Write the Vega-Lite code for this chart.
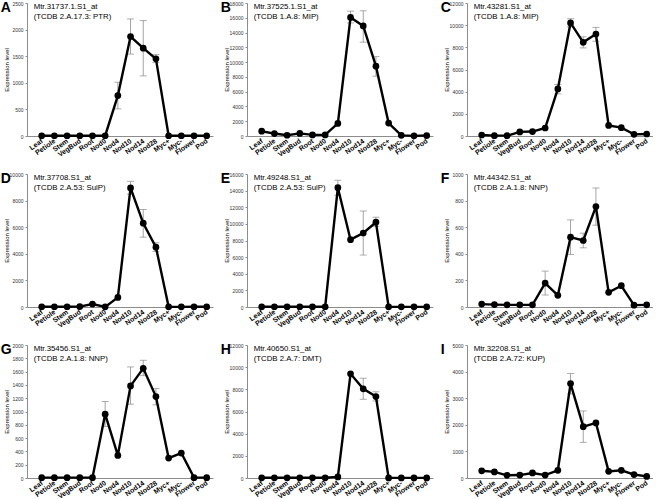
{
  "$schema": "https://vega.github.io/schema/vega-lite/v6.json",
  "padding": {"top": 1, "left": 0, "right": 0, "bottom": 0},
  "autosize": {"type": "pad"},
  "columns": 3,
  "spacing": {"row": 38, "column": 34},
  "bounds": "flush",
  "datasets": {
    "pts": [
      {"p":"A","tissue":"Leaf","v":5},{"p":"A","tissue":"Petiole","v":5},{"p":"A","tissue":"Stem","v":5},{"p":"A","tissue":"VegBud","v":5},{"p":"A","tissue":"Root","v":5},{"p":"A","tissue":"Nod0","v":5},{"p":"A","tissue":"Nod4","v":760,"lo":510,"hi":1010},{"p":"A","tissue":"Nod10","v":1870,"lo":1540,"hi":2200},{"p":"A","tissue":"Nod14","v":1650,"lo":1130,"hi":2170},{"p":"A","tissue":"Nod28","v":1450,"lo":1380,"hi":1530},{"p":"A","tissue":"Myc+","v":5},{"p":"A","tissue":"Myc-","v":5},{"p":"A","tissue":"Flower","v":5},{"p":"A","tissue":"Pod","v":5},
      {"p":"B","tissue":"Leaf","v":650},{"p":"B","tissue":"Petiole","v":330},{"p":"B","tissue":"Stem","v":100},{"p":"B","tissue":"VegBud","v":350},{"p":"B","tissue":"Root","v":150},{"p":"B","tissue":"Nod0","v":150},{"p":"B","tissue":"Nod4","v":1700},{"p":"B","tissue":"Nod10","v":16050,"lo":15300,"hi":16900},{"p":"B","tissue":"Nod14","v":14900,"lo":12700,"hi":16950},{"p":"B","tissue":"Nod28","v":9450,"lo":8100,"hi":10750},{"p":"B","tissue":"Myc+","v":1750},{"p":"B","tissue":"Myc-","v":90},{"p":"B","tissue":"Flower","v":20},{"p":"B","tissue":"Pod","v":60},
      {"p":"C","tissue":"Leaf","v":90},{"p":"C","tissue":"Petiole","v":30},{"p":"C","tissue":"Stem","v":30},{"p":"C","tissue":"VegBud","v":370},{"p":"C","tissue":"Root","v":400},{"p":"C","tissue":"Nod0","v":720},{"p":"C","tissue":"Nod4","v":4250,"lo":3800,"hi":4650},{"p":"C","tissue":"Nod10","v":10200,"lo":9850,"hi":10580},{"p":"C","tissue":"Nod14","v":8450,"lo":7950,"hi":8950},{"p":"C","tissue":"Nod28","v":9200,"lo":8550,"hi":9800},{"p":"C","tissue":"Myc+","v":950},{"p":"C","tissue":"Myc-","v":750},{"p":"C","tissue":"Flower","v":150},{"p":"C","tissue":"Pod","v":180},
      {"p":"D","tissue":"Leaf","v":20},{"p":"D","tissue":"Petiole","v":20},{"p":"D","tissue":"Stem","v":20},{"p":"D","tissue":"VegBud","v":30},{"p":"D","tissue":"Root","v":220},{"p":"D","tissue":"Nod0","v":10},{"p":"D","tissue":"Nod4","v":720},{"p":"D","tissue":"Nod10","v":8950,"lo":8480,"hi":9450},{"p":"D","tissue":"Nod14","v":6300,"lo":5250,"hi":7330},{"p":"D","tissue":"Nod28","v":4500,"lo":4170,"hi":4830},{"p":"D","tissue":"Myc+","v":10},{"p":"D","tissue":"Myc-","v":10},{"p":"D","tissue":"Flower","v":20},{"p":"D","tissue":"Pod","v":20},
      {"p":"E","tissue":"Leaf","v":30},{"p":"E","tissue":"Petiole","v":30},{"p":"E","tissue":"Stem","v":30},{"p":"E","tissue":"VegBud","v":30},{"p":"E","tissue":"Root","v":30},{"p":"E","tissue":"Nod0","v":30},{"p":"E","tissue":"Nod4","v":14350,"lo":13450,"hi":15250},{"p":"E","tissue":"Nod10","v":8100},{"p":"E","tissue":"Nod14","v":8900,"lo":6250,"hi":11550},{"p":"E","tissue":"Nod28","v":10200,"lo":9700,"hi":10800},{"p":"E","tissue":"Myc+","v":20},{"p":"E","tissue":"Myc-","v":20},{"p":"E","tissue":"Flower","v":20},{"p":"E","tissue":"Pod","v":20},
      {"p":"F","tissue":"Leaf","v":22},{"p":"F","tissue":"Petiole","v":18},{"p":"F","tissue":"Stem","v":16},{"p":"F","tissue":"VegBud","v":16},{"p":"F","tissue":"Root","v":16},{"p":"F","tissue":"Nod0","v":180,"lo":90,"hi":270},{"p":"F","tissue":"Nod4","v":88},{"p":"F","tissue":"Nod10","v":525,"lo":395,"hi":655},{"p":"F","tissue":"Nod14","v":500,"lo":445,"hi":555},{"p":"F","tissue":"Nod28","v":755,"lo":615,"hi":895},{"p":"F","tissue":"Myc+","v":110},{"p":"F","tissue":"Myc-","v":160},{"p":"F","tissue":"Flower","v":14},{"p":"F","tissue":"Pod","v":16},
      {"p":"G","tissue":"Leaf","v":5},{"p":"G","tissue":"Petiole","v":5},{"p":"G","tissue":"Stem","v":5},{"p":"G","tissue":"VegBud","v":5},{"p":"G","tissue":"Root","v":5},{"p":"G","tissue":"Nod0","v":960,"lo":775,"hi":1150},{"p":"G","tissue":"Nod4","v":340},{"p":"G","tissue":"Nod10","v":1385,"lo":1110,"hi":1670},{"p":"G","tissue":"Nod14","v":1650,"lo":1540,"hi":1770},{"p":"G","tissue":"Nod28","v":1225,"lo":1100,"hi":1345},{"p":"G","tissue":"Myc+","v":300},{"p":"G","tissue":"Myc-","v":375},{"p":"G","tissue":"Flower","v":5},{"p":"G","tissue":"Pod","v":5},
      {"p":"H","tissue":"Leaf","v":20},{"p":"H","tissue":"Petiole","v":20},{"p":"H","tissue":"Stem","v":20},{"p":"H","tissue":"VegBud","v":20},{"p":"H","tissue":"Root","v":20},{"p":"H","tissue":"Nod0","v":20},{"p":"H","tissue":"Nod4","v":100},{"p":"H","tissue":"Nod10","v":9400},{"p":"H","tissue":"Nod14","v":8050,"lo":7100,"hi":9000},{"p":"H","tissue":"Nod28","v":7350,"lo":6950,"hi":7780},{"p":"H","tissue":"Myc+","v":10},{"p":"H","tissue":"Myc-","v":10},{"p":"H","tissue":"Flower","v":10},{"p":"H","tissue":"Pod","v":10},
      {"p":"I","tissue":"Leaf","v":270},{"p":"I","tissue":"Petiole","v":230},{"p":"I","tissue":"Stem","v":100},{"p":"I","tissue":"VegBud","v":110},{"p":"I","tissue":"Root","v":190},{"p":"I","tissue":"Nod0","v":110},{"p":"I","tissue":"Nod4","v":290},{"p":"I","tissue":"Nod10","v":3550,"lo":3160,"hi":3930},{"p":"I","tissue":"Nod14","v":1930,"lo":1340,"hi":2520},{"p":"I","tissue":"Nod28","v":2070},{"p":"I","tissue":"Myc+","v":250},{"p":"I","tissue":"Myc-","v":290},{"p":"I","tissue":"Flower","v":130},{"p":"I","tissue":"Pod","v":60}
    ],
    "lab": [
      {"p":"A","t":"Mtr.31737.1.S1_at\n(TCDB 2.A.17.3: PTR)"},
      {"p":"B","t":"Mtr.37525.1.S1_at\n(TCDB 1.A.8: MIP)"},
      {"p":"C","t":"Mtr.43281.S1_at\n(TCDB 1.A.8: MIP)"},
      {"p":"D","t":"Mtr.37708.S1_at\n(TCDB 2.A.53: SulP)"},
      {"p":"E","t":"Mtr.49248.S1_at\n(TCDB 2.A.53: SulP)"},
      {"p":"F","t":"Mtr.44342.S1_at\n(TCDB 2.A.1.8: NNP)"},
      {"p":"G","t":"Mtr.35456.S1_at\n(TCDB 2.A.1.8: NNP)"},
      {"p":"H","t":"Mtr.40650.S1_at\n(TCDB 2.A.7: DMT)"},
      {"p":"I","t":"Mtr.32208.S1_at\n(TCDB 2.A.72: KUP)"}
    ]
  },
  "concat": [
    {"width":186,"height":133,
     "encoding":{"x":{"field":"tissue","type":"nominal","scale":{"type":"point","domain":["Leaf","Petiole","Stem","VegBud","Root","Nod0","Nod4","Nod10","Nod14","Nod28","Myc+","Myc-","Flower","Pod"],"padding":0.827,"align":0.7},"axis":{"title":null}},
                 "y":{"field":"v","type":"quantitative","scale":{"domain":[0,2500],"nice":false},"axis":{"values":[0,500,1000,1500,2000,2500],"format":"d","title":"Expression level"}}},
     "layer":[
      {"data":{"name":"pts"},"transform":[{"filter":"datum.p == 'A' && datum.lo != null"}],"mark":{"type":"errorbar","ticks":{"size":7,"color":"#8c8c8c","strokeWidth":0.8},"rule":{"color":"#8c8c8c","strokeWidth":0.8}},"encoding":{"y":{"field":"lo","type":"quantitative","scale":{"domain":[0,2500],"nice":false},"title":"Expression level"},"y2":{"field":"hi"}}},
      {"data":{"name":"pts"},"transform":[{"filter":"datum.p == 'A'"}],"mark":{"type":"line","color":"black","strokeWidth":2.4}},
      {"data":{"name":"pts"},"transform":[{"filter":"datum.p == 'A'"}],"mark":{"type":"point","filled":true,"color":"black","opacity":1,"size":45}},
      {"data":{"name":"pts"},"transform":[{"filter":"datum.p == 'A' && datum.tissue == 'Leaf'"},{"lookup":"p","from":{"data":{"name":"lab"},"key":"p","fields":["t"]}}],"mark":{"type":"text","align":"left","baseline":"top","fontSize":14,"fontWeight":"bold","color":"black","dx":-41,"dy":-2},"encoding":{"y":{"datum":2500,"type":"quantitative"},"text":{"field":"p","type":"nominal"}}},
      {"data":{"name":"pts"},"transform":[{"filter":"datum.p == 'A' && datum.tissue == 'Leaf'"},{"lookup":"p","from":{"data":{"name":"lab"},"key":"p","fields":["t"]}}],"mark":{"type":"text","align":"left","baseline":"top","fontSize":7.8,"color":"black","lineHeight":10,"lineBreak":"\n","dx":-8,"dy":0},"encoding":{"y":{"datum":2500,"type":"quantitative"},"text":{"field":"t","type":"nominal"}}}
     ]},
    {"width":186,"height":133,
     "encoding":{"x":{"field":"tissue","type":"nominal","scale":{"type":"point","domain":["Leaf","Petiole","Stem","VegBud","Root","Nod0","Nod4","Nod10","Nod14","Nod28","Myc+","Myc-","Flower","Pod"],"padding":0.827,"align":0.7},"axis":{"title":null}},
                 "y":{"field":"v","type":"quantitative","scale":{"domain":[0,18000],"nice":false},"axis":{"values":[0,2000,4000,6000,8000,10000,12000,14000,16000,18000],"format":"d","title":"Expression level"}}},
     "layer":[
      {"data":{"name":"pts"},"transform":[{"filter":"datum.p == 'B' && datum.lo != null"}],"mark":{"type":"errorbar","ticks":{"size":7,"color":"#8c8c8c","strokeWidth":0.8},"rule":{"color":"#8c8c8c","strokeWidth":0.8}},"encoding":{"y":{"field":"lo","type":"quantitative","scale":{"domain":[0,18000],"nice":false},"title":"Expression level"},"y2":{"field":"hi"}}},
      {"data":{"name":"pts"},"transform":[{"filter":"datum.p == 'B'"}],"mark":{"type":"line","color":"black","strokeWidth":2.4}},
      {"data":{"name":"pts"},"transform":[{"filter":"datum.p == 'B'"}],"mark":{"type":"point","filled":true,"color":"black","opacity":1,"size":45}},
      {"data":{"name":"pts"},"transform":[{"filter":"datum.p == 'B' && datum.tissue == 'Leaf'"},{"lookup":"p","from":{"data":{"name":"lab"},"key":"p","fields":["t"]}}],"mark":{"type":"text","align":"left","baseline":"top","fontSize":14,"fontWeight":"bold","color":"black","dx":-41,"dy":-2},"encoding":{"y":{"datum":18000,"type":"quantitative"},"text":{"field":"p","type":"nominal"}}},
      {"data":{"name":"pts"},"transform":[{"filter":"datum.p == 'B' && datum.tissue == 'Leaf'"},{"lookup":"p","from":{"data":{"name":"lab"},"key":"p","fields":["t"]}}],"mark":{"type":"text","align":"left","baseline":"top","fontSize":7.8,"color":"black","lineHeight":10,"lineBreak":"\n","dx":-8,"dy":0},"encoding":{"y":{"datum":18000,"type":"quantitative"},"text":{"field":"t","type":"nominal"}}}
     ]},
    {"width":186,"height":133,
     "encoding":{"x":{"field":"tissue","type":"nominal","scale":{"type":"point","domain":["Leaf","Petiole","Stem","VegBud","Root","Nod0","Nod4","Nod10","Nod14","Nod28","Myc+","Myc-","Flower","Pod"],"padding":0.827,"align":0.7},"axis":{"title":null}},
                 "y":{"field":"v","type":"quantitative","scale":{"domain":[0,12000],"nice":false},"axis":{"values":[0,2000,4000,6000,8000,10000,12000],"format":"d","title":"Expression level"}}},
     "layer":[
      {"data":{"name":"pts"},"transform":[{"filter":"datum.p == 'C' && datum.lo != null"}],"mark":{"type":"errorbar","ticks":{"size":7,"color":"#8c8c8c","strokeWidth":0.8},"rule":{"color":"#8c8c8c","strokeWidth":0.8}},"encoding":{"y":{"field":"lo","type":"quantitative","scale":{"domain":[0,12000],"nice":false},"title":"Expression level"},"y2":{"field":"hi"}}},
      {"data":{"name":"pts"},"transform":[{"filter":"datum.p == 'C'"}],"mark":{"type":"line","color":"black","strokeWidth":2.4}},
      {"data":{"name":"pts"},"transform":[{"filter":"datum.p == 'C'"}],"mark":{"type":"point","filled":true,"color":"black","opacity":1,"size":45}},
      {"data":{"name":"pts"},"transform":[{"filter":"datum.p == 'C' && datum.tissue == 'Leaf'"},{"lookup":"p","from":{"data":{"name":"lab"},"key":"p","fields":["t"]}}],"mark":{"type":"text","align":"left","baseline":"top","fontSize":14,"fontWeight":"bold","color":"black","dx":-41,"dy":-2},"encoding":{"y":{"datum":12000,"type":"quantitative"},"text":{"field":"p","type":"nominal"}}},
      {"data":{"name":"pts"},"transform":[{"filter":"datum.p == 'C' && datum.tissue == 'Leaf'"},{"lookup":"p","from":{"data":{"name":"lab"},"key":"p","fields":["t"]}}],"mark":{"type":"text","align":"left","baseline":"top","fontSize":7.8,"color":"black","lineHeight":10,"lineBreak":"\n","dx":-8,"dy":0},"encoding":{"y":{"datum":12000,"type":"quantitative"},"text":{"field":"t","type":"nominal"}}}
     ]},
    {"width":186,"height":133,
     "encoding":{"x":{"field":"tissue","type":"nominal","scale":{"type":"point","domain":["Leaf","Petiole","Stem","VegBud","Root","Nod0","Nod4","Nod10","Nod14","Nod28","Myc+","Myc-","Flower","Pod"],"padding":0.827,"align":0.7},"axis":{"title":null}},
                 "y":{"field":"v","type":"quantitative","scale":{"domain":[0,10000],"nice":false},"axis":{"values":[0,2000,4000,6000,8000,10000],"format":"d","title":"Expression level"}}},
     "layer":[
      {"data":{"name":"pts"},"transform":[{"filter":"datum.p == 'D' && datum.lo != null"}],"mark":{"type":"errorbar","ticks":{"size":7,"color":"#8c8c8c","strokeWidth":0.8},"rule":{"color":"#8c8c8c","strokeWidth":0.8}},"encoding":{"y":{"field":"lo","type":"quantitative","scale":{"domain":[0,10000],"nice":false},"title":"Expression level"},"y2":{"field":"hi"}}},
      {"data":{"name":"pts"},"transform":[{"filter":"datum.p == 'D'"}],"mark":{"type":"line","color":"black","strokeWidth":2.4}},
      {"data":{"name":"pts"},"transform":[{"filter":"datum.p == 'D'"}],"mark":{"type":"point","filled":true,"color":"black","opacity":1,"size":45}},
      {"data":{"name":"pts"},"transform":[{"filter":"datum.p == 'D' && datum.tissue == 'Leaf'"},{"lookup":"p","from":{"data":{"name":"lab"},"key":"p","fields":["t"]}}],"mark":{"type":"text","align":"left","baseline":"top","fontSize":14,"fontWeight":"bold","color":"black","dx":-41,"dy":-2},"encoding":{"y":{"datum":10000,"type":"quantitative"},"text":{"field":"p","type":"nominal"}}},
      {"data":{"name":"pts"},"transform":[{"filter":"datum.p == 'D' && datum.tissue == 'Leaf'"},{"lookup":"p","from":{"data":{"name":"lab"},"key":"p","fields":["t"]}}],"mark":{"type":"text","align":"left","baseline":"top","fontSize":7.8,"color":"black","lineHeight":10,"lineBreak":"\n","dx":-8,"dy":0},"encoding":{"y":{"datum":10000,"type":"quantitative"},"text":{"field":"t","type":"nominal"}}}
     ]},
    {"width":186,"height":133,
     "encoding":{"x":{"field":"tissue","type":"nominal","scale":{"type":"point","domain":["Leaf","Petiole","Stem","VegBud","Root","Nod0","Nod4","Nod10","Nod14","Nod28","Myc+","Myc-","Flower","Pod"],"padding":0.827,"align":0.7},"axis":{"title":null}},
                 "y":{"field":"v","type":"quantitative","scale":{"domain":[0,16000],"nice":false},"axis":{"values":[0,2000,4000,6000,8000,10000,12000,14000,16000],"format":"d","title":"Expression level"}}},
     "layer":[
      {"data":{"name":"pts"},"transform":[{"filter":"datum.p == 'E' && datum.lo != null"}],"mark":{"type":"errorbar","ticks":{"size":7,"color":"#8c8c8c","strokeWidth":0.8},"rule":{"color":"#8c8c8c","strokeWidth":0.8}},"encoding":{"y":{"field":"lo","type":"quantitative","scale":{"domain":[0,16000],"nice":false},"title":"Expression level"},"y2":{"field":"hi"}}},
      {"data":{"name":"pts"},"transform":[{"filter":"datum.p == 'E'"}],"mark":{"type":"line","color":"black","strokeWidth":2.4}},
      {"data":{"name":"pts"},"transform":[{"filter":"datum.p == 'E'"}],"mark":{"type":"point","filled":true,"color":"black","opacity":1,"size":45}},
      {"data":{"name":"pts"},"transform":[{"filter":"datum.p == 'E' && datum.tissue == 'Leaf'"},{"lookup":"p","from":{"data":{"name":"lab"},"key":"p","fields":["t"]}}],"mark":{"type":"text","align":"left","baseline":"top","fontSize":14,"fontWeight":"bold","color":"black","dx":-41,"dy":-2},"encoding":{"y":{"datum":16000,"type":"quantitative"},"text":{"field":"p","type":"nominal"}}},
      {"data":{"name":"pts"},"transform":[{"filter":"datum.p == 'E' && datum.tissue == 'Leaf'"},{"lookup":"p","from":{"data":{"name":"lab"},"key":"p","fields":["t"]}}],"mark":{"type":"text","align":"left","baseline":"top","fontSize":7.8,"color":"black","lineHeight":10,"lineBreak":"\n","dx":-8,"dy":0},"encoding":{"y":{"datum":16000,"type":"quantitative"},"text":{"field":"t","type":"nominal"}}}
     ]},
    {"width":186,"height":133,
     "encoding":{"x":{"field":"tissue","type":"nominal","scale":{"type":"point","domain":["Leaf","Petiole","Stem","VegBud","Root","Nod0","Nod4","Nod10","Nod14","Nod28","Myc+","Myc-","Flower","Pod"],"padding":0.827,"align":0.7},"axis":{"title":null}},
                 "y":{"field":"v","type":"quantitative","scale":{"domain":[0,1000],"nice":false},"axis":{"values":[0,200,400,600,800,1000],"format":"d","title":"Expression level"}}},
     "layer":[
      {"data":{"name":"pts"},"transform":[{"filter":"datum.p == 'F' && datum.lo != null"}],"mark":{"type":"errorbar","ticks":{"size":7,"color":"#8c8c8c","strokeWidth":0.8},"rule":{"color":"#8c8c8c","strokeWidth":0.8}},"encoding":{"y":{"field":"lo","type":"quantitative","scale":{"domain":[0,1000],"nice":false},"title":"Expression level"},"y2":{"field":"hi"}}},
      {"data":{"name":"pts"},"transform":[{"filter":"datum.p == 'F'"}],"mark":{"type":"line","color":"black","strokeWidth":2.4}},
      {"data":{"name":"pts"},"transform":[{"filter":"datum.p == 'F'"}],"mark":{"type":"point","filled":true,"color":"black","opacity":1,"size":45}},
      {"data":{"name":"pts"},"transform":[{"filter":"datum.p == 'F' && datum.tissue == 'Leaf'"},{"lookup":"p","from":{"data":{"name":"lab"},"key":"p","fields":["t"]}}],"mark":{"type":"text","align":"left","baseline":"top","fontSize":14,"fontWeight":"bold","color":"black","dx":-41,"dy":-2},"encoding":{"y":{"datum":1000,"type":"quantitative"},"text":{"field":"p","type":"nominal"}}},
      {"data":{"name":"pts"},"transform":[{"filter":"datum.p == 'F' && datum.tissue == 'Leaf'"},{"lookup":"p","from":{"data":{"name":"lab"},"key":"p","fields":["t"]}}],"mark":{"type":"text","align":"left","baseline":"top","fontSize":7.8,"color":"black","lineHeight":10,"lineBreak":"\n","dx":-8,"dy":0},"encoding":{"y":{"datum":1000,"type":"quantitative"},"text":{"field":"t","type":"nominal"}}}
     ]},
    {"width":186,"height":133,
     "encoding":{"x":{"field":"tissue","type":"nominal","scale":{"type":"point","domain":["Leaf","Petiole","Stem","VegBud","Root","Nod0","Nod4","Nod10","Nod14","Nod28","Myc+","Myc-","Flower","Pod"],"padding":0.827,"align":0.7},"axis":{"title":null}},
                 "y":{"field":"v","type":"quantitative","scale":{"domain":[0,2000],"nice":false},"axis":{"values":[0,200,400,600,800,1000,1200,1400,1600,1800,2000],"format":"d","title":"Expression level"}}},
     "layer":[
      {"data":{"name":"pts"},"transform":[{"filter":"datum.p == 'G' && datum.lo != null"}],"mark":{"type":"errorbar","ticks":{"size":7,"color":"#8c8c8c","strokeWidth":0.8},"rule":{"color":"#8c8c8c","strokeWidth":0.8}},"encoding":{"y":{"field":"lo","type":"quantitative","scale":{"domain":[0,2000],"nice":false},"title":"Expression level"},"y2":{"field":"hi"}}},
      {"data":{"name":"pts"},"transform":[{"filter":"datum.p == 'G'"}],"mark":{"type":"line","color":"black","strokeWidth":2.4}},
      {"data":{"name":"pts"},"transform":[{"filter":"datum.p == 'G'"}],"mark":{"type":"point","filled":true,"color":"black","opacity":1,"size":45}},
      {"data":{"name":"pts"},"transform":[{"filter":"datum.p == 'G' && datum.tissue == 'Leaf'"},{"lookup":"p","from":{"data":{"name":"lab"},"key":"p","fields":["t"]}}],"mark":{"type":"text","align":"left","baseline":"top","fontSize":14,"fontWeight":"bold","color":"black","dx":-41,"dy":-2},"encoding":{"y":{"datum":2000,"type":"quantitative"},"text":{"field":"p","type":"nominal"}}},
      {"data":{"name":"pts"},"transform":[{"filter":"datum.p == 'G' && datum.tissue == 'Leaf'"},{"lookup":"p","from":{"data":{"name":"lab"},"key":"p","fields":["t"]}}],"mark":{"type":"text","align":"left","baseline":"top","fontSize":7.8,"color":"black","lineHeight":10,"lineBreak":"\n","dx":-8,"dy":0},"encoding":{"y":{"datum":2000,"type":"quantitative"},"text":{"field":"t","type":"nominal"}}}
     ]},
    {"width":186,"height":133,
     "encoding":{"x":{"field":"tissue","type":"nominal","scale":{"type":"point","domain":["Leaf","Petiole","Stem","VegBud","Root","Nod0","Nod4","Nod10","Nod14","Nod28","Myc+","Myc-","Flower","Pod"],"padding":0.827,"align":0.7},"axis":{"title":null}},
                 "y":{"field":"v","type":"quantitative","scale":{"domain":[0,12000],"nice":false},"axis":{"values":[0,2000,4000,6000,8000,10000,12000],"format":"d","title":"Expression level"}}},
     "layer":[
      {"data":{"name":"pts"},"transform":[{"filter":"datum.p == 'H' && datum.lo != null"}],"mark":{"type":"errorbar","ticks":{"size":7,"color":"#8c8c8c","strokeWidth":0.8},"rule":{"color":"#8c8c8c","strokeWidth":0.8}},"encoding":{"y":{"field":"lo","type":"quantitative","scale":{"domain":[0,12000],"nice":false},"title":"Expression level"},"y2":{"field":"hi"}}},
      {"data":{"name":"pts"},"transform":[{"filter":"datum.p == 'H'"}],"mark":{"type":"line","color":"black","strokeWidth":2.4}},
      {"data":{"name":"pts"},"transform":[{"filter":"datum.p == 'H'"}],"mark":{"type":"point","filled":true,"color":"black","opacity":1,"size":45}},
      {"data":{"name":"pts"},"transform":[{"filter":"datum.p == 'H' && datum.tissue == 'Leaf'"},{"lookup":"p","from":{"data":{"name":"lab"},"key":"p","fields":["t"]}}],"mark":{"type":"text","align":"left","baseline":"top","fontSize":14,"fontWeight":"bold","color":"black","dx":-41,"dy":-2},"encoding":{"y":{"datum":12000,"type":"quantitative"},"text":{"field":"p","type":"nominal"}}},
      {"data":{"name":"pts"},"transform":[{"filter":"datum.p == 'H' && datum.tissue == 'Leaf'"},{"lookup":"p","from":{"data":{"name":"lab"},"key":"p","fields":["t"]}}],"mark":{"type":"text","align":"left","baseline":"top","fontSize":7.8,"color":"black","lineHeight":10,"lineBreak":"\n","dx":-8,"dy":0},"encoding":{"y":{"datum":12000,"type":"quantitative"},"text":{"field":"t","type":"nominal"}}}
     ]},
    {"width":186,"height":133,
     "encoding":{"x":{"field":"tissue","type":"nominal","scale":{"type":"point","domain":["Leaf","Petiole","Stem","VegBud","Root","Nod0","Nod4","Nod10","Nod14","Nod28","Myc+","Myc-","Flower","Pod"],"padding":0.827,"align":0.7},"axis":{"title":null}},
                 "y":{"field":"v","type":"quantitative","scale":{"domain":[0,5000],"nice":false},"axis":{"values":[0,1000,2000,3000,4000,5000],"format":"d","title":"Expression level"}}},
     "layer":[
      {"data":{"name":"pts"},"transform":[{"filter":"datum.p == 'I' && datum.lo != null"}],"mark":{"type":"errorbar","ticks":{"size":7,"color":"#8c8c8c","strokeWidth":0.8},"rule":{"color":"#8c8c8c","strokeWidth":0.8}},"encoding":{"y":{"field":"lo","type":"quantitative","scale":{"domain":[0,5000],"nice":false},"title":"Expression level"},"y2":{"field":"hi"}}},
      {"data":{"name":"pts"},"transform":[{"filter":"datum.p == 'I'"}],"mark":{"type":"line","color":"black","strokeWidth":2.4}},
      {"data":{"name":"pts"},"transform":[{"filter":"datum.p == 'I'"}],"mark":{"type":"point","filled":true,"color":"black","opacity":1,"size":45}},
      {"data":{"name":"pts"},"transform":[{"filter":"datum.p == 'I' && datum.tissue == 'Leaf'"},{"lookup":"p","from":{"data":{"name":"lab"},"key":"p","fields":["t"]}}],"mark":{"type":"text","align":"left","baseline":"top","fontSize":14,"fontWeight":"bold","color":"black","dx":-41,"dy":-2},"encoding":{"y":{"datum":5000,"type":"quantitative"},"text":{"field":"p","type":"nominal"}}},
      {"data":{"name":"pts"},"transform":[{"filter":"datum.p == 'I' && datum.tissue == 'Leaf'"},{"lookup":"p","from":{"data":{"name":"lab"},"key":"p","fields":["t"]}}],"mark":{"type":"text","align":"left","baseline":"top","fontSize":7.8,"color":"black","lineHeight":10,"lineBreak":"\n","dx":-8,"dy":0},"encoding":{"y":{"datum":5000,"type":"quantitative"},"text":{"field":"t","type":"nominal"}}}
     ]}
  ],
  "config": {
    "font": "Liberation Sans",
    "view": {"stroke": null},
    "axis": {"grid": false, "domainColor": "#8c8c8c", "domainWidth": 1, "tickColor": "#8c8c8c", "tickWidth": 1},
    "axisX": {"ticks": false, "labelAngle": -35, "labelAlign": "right", "labelBaseline": "middle", "labelFontSize": 7, "labelFontWeight": "bold", "labelColor": "black", "labelPadding": 4, "labelOverlap": false, "labelBound": false},
    "axisY": {"tickSize": 2, "labelPadding": 2, "labelFontSize": 5, "labelColor": "#333333", "titleFontSize": 6, "titleFontWeight": "normal", "titleColor": "black", "titleX": -18, "labelOverlap": false}
  }
}
